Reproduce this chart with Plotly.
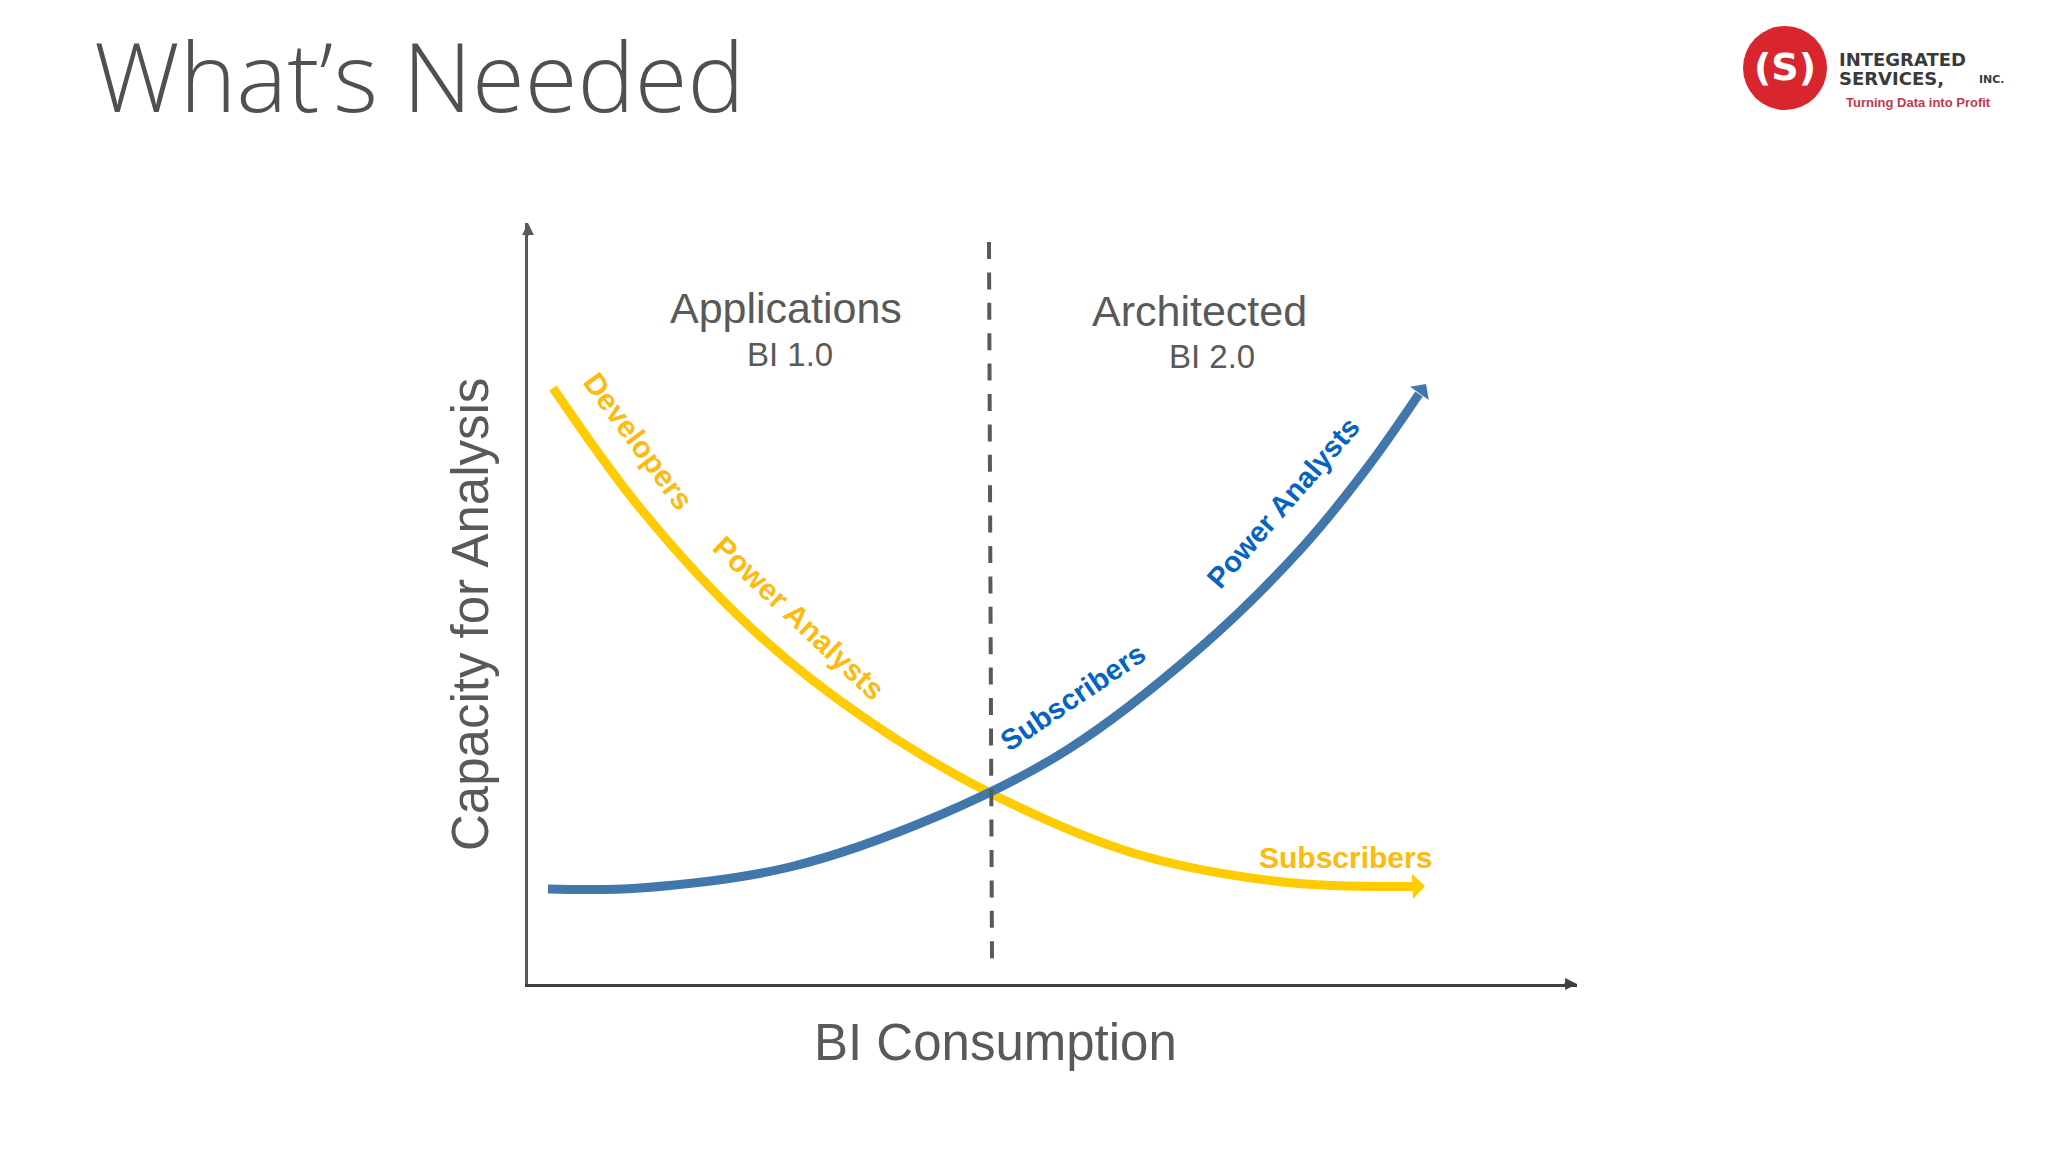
import plotly.graph_objects as go

W = 2048
H = 1152
# where the two axes sit on the page
left = 528
right = 1577
top = 223
bottom = 984

# values, in axis units
apps_x = [25, 112, 222, 332, 462, 605, 755, 885, 897]
apps_y = [596, 476, 357, 269, 191, 131, 102, 97.5, 98]
arch_x = [20, 112, 262, 412, 539, 672, 772, 839, 891, 898]
arch_y = [95, 96, 117, 169, 234, 336, 434, 516, 590, 600]
split_x = [461, 464]
split_y = [742, 23]

GREY = "#595959"
DARK = "#404040"
YELLOW = "#FFCC00"
AMBER = "#FBBB10"
STEEL = "#4177AA"
BLUE = "#0563C1"
RED = "#D9262E"
SANS = "Liberation Sans"


def label(text, px, py, size, color=GREY, angle=0, family=SANS, bold=False, anchor="center"):
    # px, py are page pixels
    return dict(
        text=text, x=(px - left) / (right - left), y=(bottom - py) / (bottom - top),
        xref="paper", yref="paper", xanchor=anchor, yanchor="middle",
        showarrow=False, textangle=angle,
        font=dict(family=family, size=size, color=color, weight="bold" if bold else "normal"),
    )


def head(x, y, ax, ay, color, width, size, style=1):
    return dict(
        x=x, y=y, ax=ax, ay=ay, xref="x", yref="y", axref="x", ayref="y", text="",
        showarrow=True, arrowhead=style, arrowsize=size, arrowwidth=width, arrowcolor=color,
    )


fig = go.Figure()
# the last point of each curve is the arrow tip, the head covers that stretch
fig.add_trace(go.Scatter(x=apps_x[:-1], y=apps_y[:-1], mode="lines", cliponaxis=False,
                         line=dict(color=YELLOW, width=9, shape="spline")))
fig.add_trace(go.Scatter(x=arch_x[:-1], y=arch_y[:-1], mode="lines", cliponaxis=False,
                         line=dict(color=STEEL, width=9, shape="spline")))
fig.add_trace(go.Scatter(x=split_x, y=split_y, mode="lines", cliponaxis=False,
                         line=dict(color=GREY, width=4, dash="17px,13.4px")))

notes = [
    head(apps_x[-1], apps_y[-1], apps_x[-2], apps_y[-2], YELLOW, 4, 1.05),
    head(arch_x[-1], arch_y[-1], arch_x[-2], arch_y[-2], STEEL, 4, 0.95),
    head(right - left, 0, right - left - 14, 0, DARK, 2.5, 0.95, style=2),
    head(0, bottom - top, 0, bottom - top - 14, GREY, 2.5, 0.95, style=2),
    label("Applications", 786, 308, 43),
    label("BI 1.0", 790, 354, 33),
    label("Architected", 1199, 311, 43),
    label("BI 2.0", 1212, 356, 33),
    label("Capacity for Analysis", 470, 615, 51, angle=-90),
    label("BI Consumption", 995, 1042, 51),
    label("Developers", 639, 441, 30, AMBER, 53.5, bold=True),
    label("Power Analysts", 798.5, 617.5, 30, AMBER, 43.4, bold=True),
    label("Subscribers", 1073, 697, 29, BLUE, -34, bold=True),
    label("Power Analysts", 1283, 503, 29, BLUE, -49, bold=True),
    label("Subscribers", 1345, 857, 30, AMBER, bold=True),
    # logo
    label("(S)", 1785, 67, 38, "white", family="DejaVu Sans", bold=True),
    label("INTEGRATED", 1837, 59, 18, "#3A3A3A", family="DejaVu Sans", bold=True, anchor="left"),
    label("SERVICES,", 1837, 78, 18, "#3A3A3A", family="DejaVu Sans", bold=True, anchor="left"),
    label("INC.", 1992, 79, 11, "#3A3A3A", family="DejaVu Sans", bold=True),
    label("Turning Data into Profit", 1918, 102, 13, "#C0394D", bold=True),
]

fig.update_layout(
    width=W, height=H,
    autosize=False,
    showlegend=False,
    paper_bgcolor="white",
    plot_bgcolor="white",
    margin=dict(l=left, r=W - right, t=top, b=H - bottom, pad=0),
    title=dict(text="What’s Needed", x=94 / W, xanchor="left", xref="container",
               y=1 - 78 / H, yanchor="middle", yref="container",
               font=dict(family="Open Sans", size=96, color="#505050", weight=300)),
    xaxis=dict(range=[0, right - left], showgrid=False, zeroline=False, showticklabels=False,
               ticks="", showline=True, linecolor=DARK, linewidth=2.5),
    yaxis=dict(range=[0, bottom - top], showgrid=False, zeroline=False, showticklabels=False,
               ticks="", showline=True, linecolor=GREY, linewidth=2.5),
    annotations=notes,
    shapes=[dict(type="circle", xref="paper", yref="paper", layer="below", line_width=0, fillcolor=RED,
                 x0=(1743 - left) / (right - left), x1=(1827 - left) / (right - left),
                 y0=(bottom - 110) / (bottom - top), y1=(bottom - 26) / (bottom - top))],
)

# default page margin would push the whole figure 8px right and down
fig.write_html("out.html", config={"displayModeBar": False},
               post_script="document.body.style.margin = '0';")
